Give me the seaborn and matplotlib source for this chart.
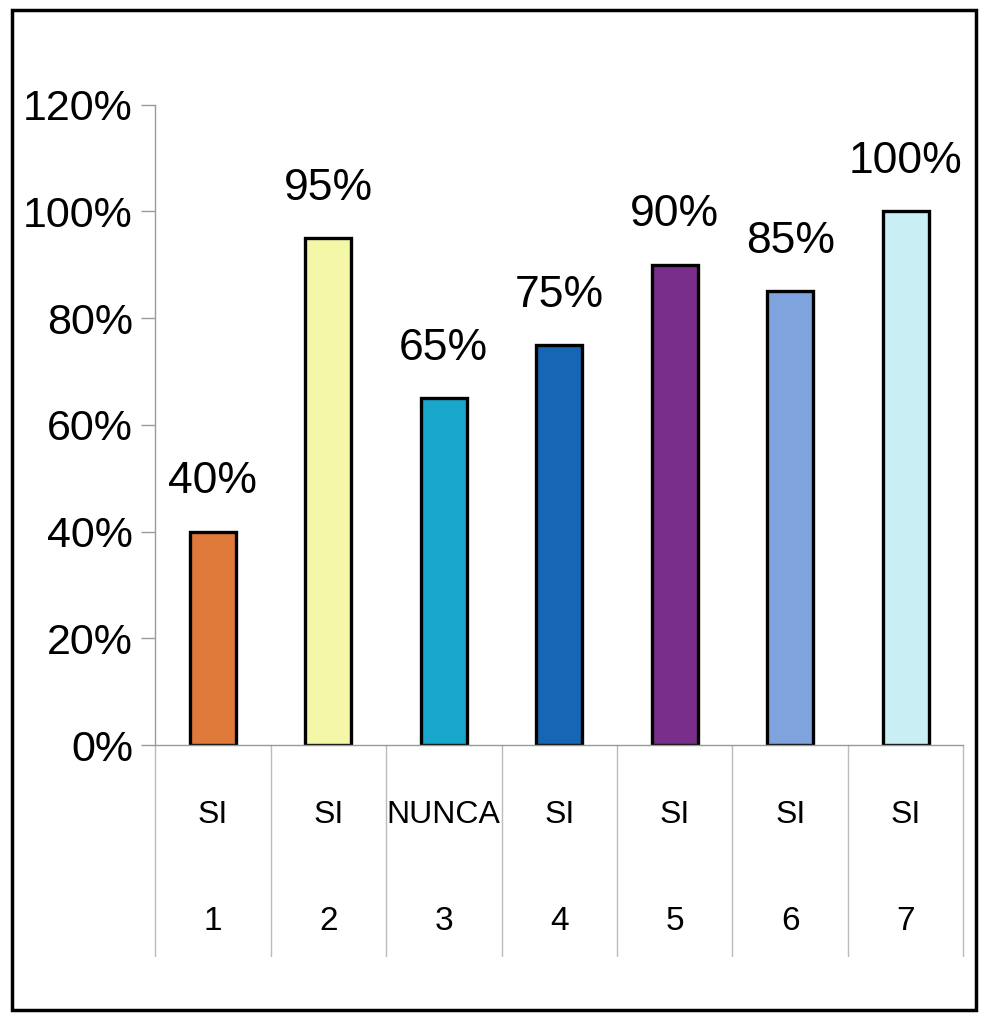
import matplotlib
matplotlib.use("Agg")
import matplotlib.pyplot as plt
from matplotlib.patches import Rectangle
from matplotlib.ticker import PercentFormatter
import seaborn as sns

# data
items = ["1", "2", "3", "4", "5", "6", "7"]
answers = ["SI", "SI", "NUNCA", "SI", "SI", "SI", "SI"]
values = [0.40, 0.95, 0.65, 0.75, 0.90, 0.85, 1.00]
colors = ["#E07A3A", "#F4F6A8", "#19A8CC", "#1766B4", "#7A2E8C", "#7FA3DC", "#C9EFF4"]

sns.set_style("white")
plt.rcParams["font.family"] = ["Liberation Sans", "DejaVu Sans"]
plt.rcParams["text.color"] = "black"
plt.rcParams["ytick.labelcolor"] = "black"

fig = plt.figure(figsize=(9.82, 10.15), dpi=100)
ax = fig.add_axes([0.158, 0.266, 0.823, 0.631])

sns.barplot(x=items, y=values, hue=items, palette=colors, legend=False,
            width=0.4, edgecolor="black", linewidth=2.4, saturation=1, ax=ax)

ax.set_ylim(0, 1.2)
ax.set_xlim(-0.5, 6.5)
ax.set_yticks([0, 0.2, 0.4, 0.6, 0.8, 1.0, 1.2])
ax.yaxis.set_major_formatter(PercentFormatter(1.0, decimals=0))
ax.tick_params(axis="y", labelsize=31, length=10, width=1, color="#999999",
               direction="out", left=True, pad=6)
ax.set_xticks([])
ax.set_xlabel("")
ax.set_ylabel("")

for s in ["top", "right"]:
    ax.spines[s].set_visible(False)
ax.spines["left"].set_color("#999999")
ax.spines["bottom"].set_color("#999999")
ax.spines["left"].set_linewidth(1)
ax.spines["bottom"].set_linewidth(1)

for c in ax.containers:
    ax.bar_label(c, labels=[f"{v*100:.0f}%" for v in c.datavalues],
                 padding=21, fontsize=32)

# data table under the axis
for i in range(len(items) + 1):
    ax.plot([i - 0.5, i - 0.5], [0, -0.33], transform=ax.get_xaxis_transform(),
            color="#BBBBBB", lw=1, clip_on=False)
for i, (a, n) in enumerate(zip(answers, items)):
    ax.text(i, -0.11, a, transform=ax.get_xaxis_transform(), ha="center",
            va="center", fontsize=23)
    ax.text(i, -0.275, n, transform=ax.get_xaxis_transform(), ha="center",
            va="center", fontsize=24)

# outer frame
fig.patches.append(Rectangle((0.012, 0.005), 0.982, 0.985, transform=fig.transFigure,
                             fill=False, edgecolor="black", linewidth=2.5))

fig.savefig("out.png", dpi=100)
